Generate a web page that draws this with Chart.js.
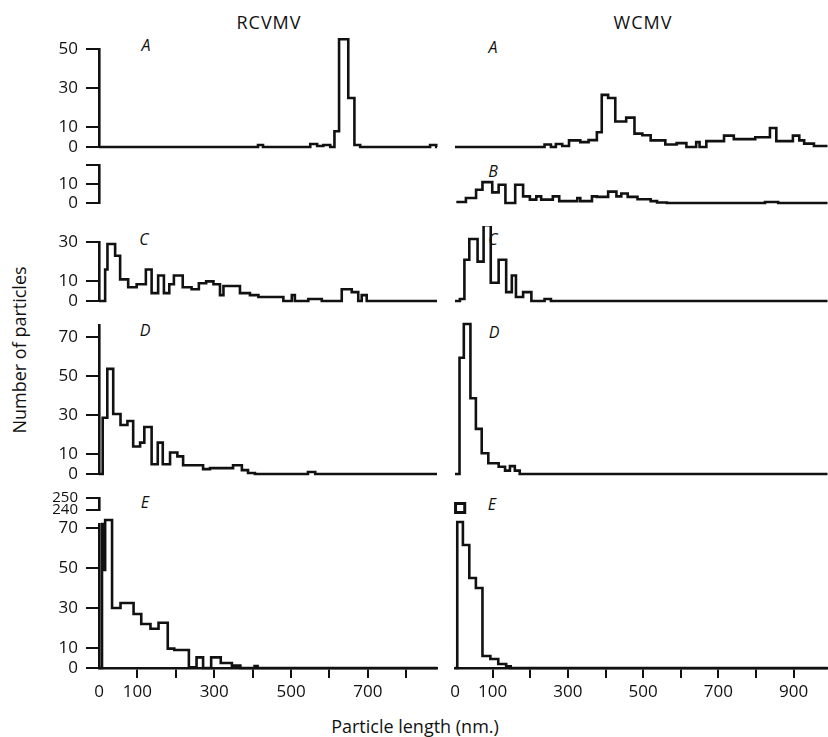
<!DOCTYPE html>
<html>
<head>
<meta charset="utf-8">
<script src="https://cdn.jsdelivr.net/npm/chart.js@4.4.1/dist/chart.umd.min.js"></script>
<style>
html,body{margin:0;padding:0;background:#fff;}
#wrap{position:relative;width:828px;height:737px;overflow:hidden;background:#fff;font-family:'Open Sans',sans-serif;color:#111;}
#wrap canvas{position:absolute;}
.t{position:absolute;white-space:nowrap;transform:translate(-50%,-50%);line-height:1;}
.lt{font-style:italic;font-size:16px;}
</style>
</head>
<body>
<div id="wrap">
<div class="t" style="left:269px;top:22px;font-size:18px;letter-spacing:1px">RCVMV</div>
<div class="t" style="left:643px;top:22px;font-size:18px;letter-spacing:1px">WCMV</div>
<div class="t lt" style="left:146px;top:45px">A</div>
<div class="t lt" style="left:493px;top:47px">A</div>
<div class="t lt" style="left:493px;top:171px">B</div>
<div class="t lt" style="left:144px;top:239px">C</div>
<div class="t lt" style="left:493px;top:239px">C</div>
<div class="t lt" style="left:145px;top:330px">D</div>
<div class="t lt" style="left:494px;top:332px">D</div>
<div class="t lt" style="left:145px;top:502px">E</div>
<div class="t lt" style="left:492px;top:504px">E</div>
<div class="t" style="left:19px;top:350px;font-size:18px;transform:translate(-50%,-50%) rotate(-90deg)">Number of particles</div>
<div class="t" style="left:415px;top:726px;font-size:18px">Particle length (nm.)</div>
</div>
<script>
// ---------------- data (particle length in nm where each step starts, and count) ----------------
const LEFT_END = 880;   // RCVMV axis extent (nm)
const RIGHT_END = 990;  // WCMV axis extent (nm)

// RCVMV
const rcA_len = [0, 414, 427, 550, 568, 584, 602, 613, 625, 649, 665, 680, 862, 878];
const rcA_cnt = [0, 1, 0, 1.5, 0.5, 1, 0, 8, 55, 25, 1, 0, 1, 0];
const rcC_len = [0, 16, 22, 42, 55, 76, 98, 122, 137, 154, 169, 183, 195, 218, 241, 260, 279, 298, 315, 324, 367, 393, 415, 480, 502, 510, 545, 580, 632, 658, 675, 684, 697];
const rcC_cnt = [0, 16, 29, 23, 11, 7, 8.5, 16, 4, 13, 4, 8.5, 13, 7, 6, 9, 10, 8.5, 3, 7.6, 4, 3, 2, 0, 3, 0, 1, 0, 6, 4.5, 0, 3, 0];
const rcD_len = [0, 9.6, 21.6, 37, 56, 74, 89, 107, 118, 137, 153, 166, 185, 204, 219, 271, 289, 349, 372, 388, 406, 544, 563];
const rcD_cnt = [0, 28.7, 53.6, 30.6, 25, 27, 14, 16, 24, 5, 16, 5, 11, 9, 4.5, 2.5, 3, 4.5, 2, 0.5, 0, 1, 0];
const rcE_len = [0, 7.8, 11, 16, 34, 56, 90, 110, 134, 155, 179, 196, 234, 254, 271, 292, 317, 346, 368, 405, 413];
const rcE_cnt = [0, 72, 49, 74, 30, 32.5, 27, 22, 19.6, 22.6, 9.7, 9, 0.3, 5.3, 0, 5.3, 2.5, 1.2, 0, 1, 0];

// WCMV
const wcA_len = [0, 238, 255, 268, 285, 303, 333, 355, 377, 390, 407, 426, 455, 477, 498, 520, 559, 589, 615, 641, 650, 668, 715, 741, 798, 837, 854, 898, 915, 928, 954];
const wcA_cnt = [0, 1.3, 0, 1.5, 0.5, 3.4, 2.5, 3.5, 7.5, 26.6, 25, 13, 15, 6.8, 6, 3.4, 1.3, 2, 0, 2.5, 0, 3, 5.8, 4, 5, 9.7, 3, 5.8, 3.4, 1.7, 0.5];
const wcB_len = [3.5, 29, 56, 73, 99, 116, 134, 160, 181, 199, 216, 229, 260, 277, 325, 333, 364, 377, 407, 429, 442, 459, 485, 520, 537, 563, 824, 859];
const wcB_cnt = [0.5, 2.6, 7, 11, 5.6, 9.6, 0, 9.6, 3.5, 1.8, 3.5, 1.8, 3.5, 1, 2.6, 1, 3.5, 3.2, 6, 3.5, 5, 3.2, 2, 1, 0.3, 0, 0.5, 0];
const wcC_len = [0, 13, 25, 38, 60, 76, 95, 116, 136, 151, 162, 181, 203, 238, 255];
const wcC_cnt = [0, 1, 21, 31.5, 20, 38.6, 9.3, 21, 4.5, 13, 2, 4.5, 0, 1, 0];
const wcD_len = [0, 12, 23.4, 41, 55.5, 71, 88.5, 116, 133, 146, 159, 172];
const wcD_cnt = [0, 59.3, 76.5, 38.6, 23, 10.6, 5.5, 3.7, 1.7, 4, 1.7, 0];
const wcE_len = [0, 6, 21, 38, 55.5, 73, 94, 115, 136, 148];
const wcE_cnt = [0, 73, 61.5, 45, 40, 6, 4.5, 2, 0.8, 0];
const wcE_off_len = [14];     // off-scale first bin (broken axis 240-250)
const wcE_off_cnt = [237];

// tick values / labels
const ticksA = [0, 10, 30, 50];        const labelsA = ['0', '10', '30', '50'];
const ticksB = [0, 10, 20];            const labelsB = ['0', '10', ''];
const ticksC = [0, 10, 30];            const labelsC = ['0', '10', '30'];
const ticksD = [0, 10, 30, 50, 70];    const labelsD = ['0', '10', '30', '50', '70'];
const ticksE = [0, 10, 30, 50, 70];    const labelsE = ['0', '10', '30', '50', '70'];
const ticksBreak = [240, 250];         const labelsBreak = ['240', '250'];
const xTicksLeft = [0, 100, 200, 300, 400, 500, 600, 700, 800];
const xLabelsLeft = ['0', '100', '', '300', '', '500', '', '700', ''];
const xTicksRight = [0, 100, 200, 300, 400, 500, 600, 700, 800, 900];
const xLabelsRight = ['0', '100', '', '300', '', '500', '', '700', '', '900'];

// ---------------- layout ----------------
const FONT = "'Open Sans', sans-serif";
const INK = '#111';
const COL = {
  left:  {x: 0,   w: 441, padL: 99,  padR: 4,   xMax: LEFT_END,  xTicks: xTicksLeft,  xLabels: xLabelsLeft,  yAxis: true},
  right: {x: 440, w: 388, padL: 7.5, padR: 0.5, xMax: RIGHT_END, xTicks: xTicksRight, xLabels: xLabelsRight, yAxis: false}
};
const ROW = {
  A: {top: 49,  zero: 147, max: 50, min: 0, ticks: ticksA, labels: labelsA},
  B: {top: 165, zero: 203, max: 20, min: 0, ticks: ticksB, labels: labelsB},
  C: {top: 242, zero: 301, max: 30, min: 0, ticks: ticksC, labels: labelsC},
  D: {top: 325, zero: 474, max: 76, min: 0, ticks: ticksD, labels: labelsD},
  E: {top: 524, zero: 668, max: 72, min: 0, ticks: ticksE, labels: labelsE, xAxis: true},
  K: {top: 498, zero: 510, max: 250, min: 240, ticks: ticksBreak, labels: labelsBreak, padT: 6, padB: 6, small: true}
};

function steps(len, cnt, end) {
  const pts = len.map((x, i) => ({x: x, y: cnt[i]}));
  if (pts.length) pts.push({x: end, y: cnt[cnt.length - 1]});
  return pts;
}
function histo(len, cnt, end) {
  return {data: steps(len, cnt, end), stepped: true, borderColor: INK, borderWidth: 2.6,
          pointRadius: 0, fill: false, clip: false, borderJoinStyle: 'miter'};
}

function addCanvas(left, top, w, h) {
  const c = document.createElement('canvas');
  c.width = w; c.height = h;
  c.style.left = left + 'px'; c.style.top = top + 'px';
  c.style.width = w + 'px'; c.style.height = h + 'px';
  document.getElementById('wrap').appendChild(c);
  return c;
}

function panel(col, row, datasets) {
  const padT = row.padT ?? 16;
  const xAxisH = row.xAxis ? 69 : 0;
  const padB = row.xAxis ? 0 : (row.padB ?? 6);
  const h = padT + (row.zero - row.top) + xAxisH + padB;
  const canvas = addCanvas(col.x, row.top - padT, col.w, h);
  const fontSize = row.small ? 15 : 17;
  new Chart(canvas, {
    type: 'line',
    data: {datasets: datasets},
    options: {
      responsive: false, animation: false, devicePixelRatio: 1,
      layout: {padding: {left: col.yAxis ? 0 : col.padL, right: col.padR, top: padT, bottom: padB}},
      plugins: {legend: {display: false}, tooltip: {enabled: false}, title: {display: false}},
      scales: {
        x: {
          type: 'linear', min: 0, max: col.xMax, display: !!row.xAxis,
          afterFit: s => { s.height = xAxisH; s.paddingLeft = 0; s.paddingRight = 0; },
          afterBuildTicks: s => { s.ticks = col.xTicks.map(v => ({value: v})); },
          ticks: {autoSkip: false, maxRotation: 0, padding: 4, color: INK,
                  font: {family: FONT, size: 17}, callback: (v, i) => col.xLabels[i]},
          grid: {drawOnChartArea: false, drawTicks: true, tickLength: 10, lineWidth: 2,
                 color: c => (c.tick && c.tick.value === 0) ? 'rgba(0,0,0,0)' : INK},
          border: {display: true, color: INK, width: 2.6}
        },
        y: {
          type: 'linear', min: row.min, max: row.max, display: col.yAxis,
          afterFit: s => { s.width = col.padL; s.paddingTop = 0; s.paddingBottom = 0; },
          afterBuildTicks: s => { s.ticks = row.ticks.map(v => ({value: v})); },
          ticks: {autoSkip: false, padding: 8, color: INK,
                  font: {family: FONT, size: fontSize}, callback: (v, i) => row.labels[i]},
          grid: {drawOnChartArea: false, drawTicks: true, tickLength: 13, lineWidth: 2, color: INK},
          border: {display: true, color: INK, width: 2.6}
        }
      }
    }
  });
}

// RCVMV column
panel(COL.left, ROW.A, [histo(rcA_len, rcA_cnt, LEFT_END)]);
panel(COL.left, ROW.B, []);
panel(COL.left, ROW.C, [histo(rcC_len, rcC_cnt, LEFT_END)]);
panel(COL.left, ROW.D, [histo(rcD_len, rcD_cnt, LEFT_END)]);
panel(COL.left, ROW.K, []);
panel(COL.left, ROW.E, [histo(rcE_len, rcE_cnt, LEFT_END)]);
// WCMV column
panel(COL.right, ROW.A, [histo(wcA_len, wcA_cnt, RIGHT_END)]);
panel(COL.right, ROW.B, [histo(wcB_len, wcB_cnt, RIGHT_END)]);
panel(COL.right, ROW.C, [histo(wcC_len, wcC_cnt, RIGHT_END)]);
panel(COL.right, ROW.D, [histo(wcD_len, wcD_cnt, RIGHT_END)]);
panel(COL.right, ROW.K, [{
  data: wcE_off_len.map((x, i) => ({x: x, y: wcE_off_cnt[i]})),
  showLine: false, pointStyle: 'rect', pointRadius: 6.5, pointBorderWidth: 3,
  pointBackgroundColor: '#fff', pointBorderColor: INK, clip: false
}]);
panel(COL.right, ROW.E, [histo(wcE_len, wcE_cnt, RIGHT_END)]);
</script>
</body>
</html>
